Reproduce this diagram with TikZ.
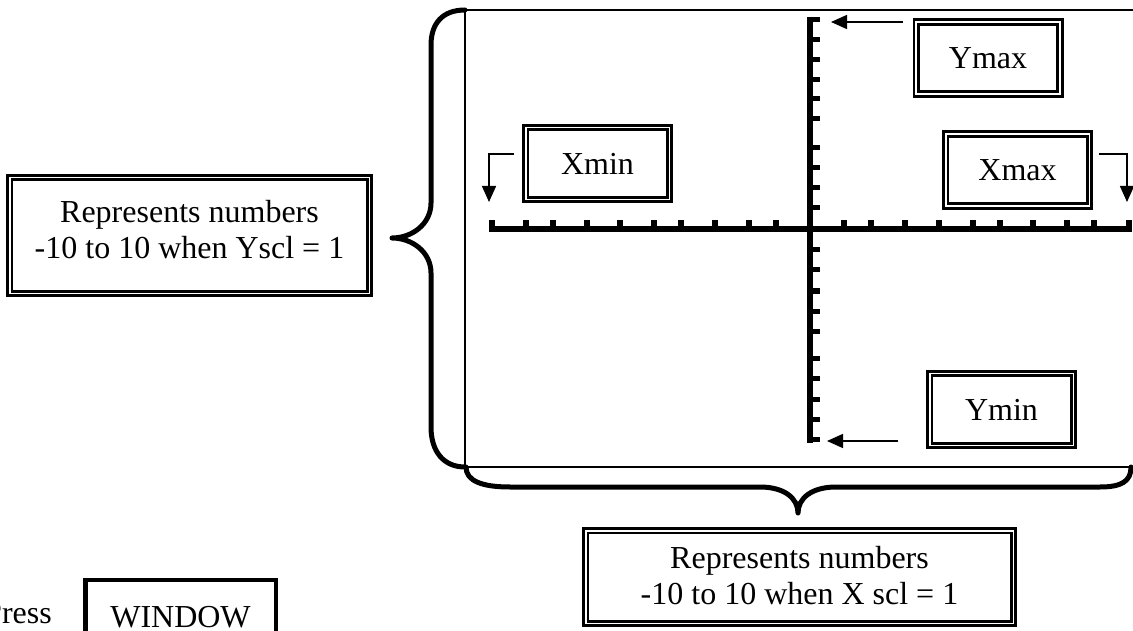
\documentclass[tikz,border=0pt]{standalone}
\usepackage{fontspec}
\setmainfont{Liberation Serif}
\usetikzlibrary{arrows.meta}
\tikzset{
  txt/.style={font=\fontsize{32}{36}\selectfont},
  dbox/.style={txt, draw, double, line width=2.8pt, double distance=1.7pt, inner sep=0pt, align=center},
  smallbox/.style={dbox, minimum width=143.7pt, minimum height=72.2pt},
  sbox/.style={txt, draw, line width=4.5pt, inner sep=0pt},
  arr/.style={line width=1.5pt, -{Triangle[length=16pt,width=14pt]}},
  axisl/.style={line width=6.5pt},
  tickl/.style={line width=6pt},
  ytickl/.style={line width=5pt},
  bracel/.style={line width=5pt, line cap=round, line join=round},
  framel/.style={line width=1.5pt}
}
\begin{document}
\begin{tikzpicture}[x=1pt, y=-1pt]
\useasboundingbox (0,0) rectangle (1133,631);
\clip (0,0) rectangle (1133,631);

% frame
\draw[framel] (1135,10) -- (465,10) -- (465,467) -- (1135,467);

% left brace
\draw[bracel] (465,10) .. controls (442,10) and (431,24) .. (431,45)
  -- (431,203) .. controls (431,224) and (412,238) .. (392,238)
  .. controls (412,238) and (431,252) .. (431,273)
  -- (431,427) .. controls (431,452) and (444,467) .. (465,467);

% bottom brace
\draw[bracel] (466,467) .. controls (466,481) and (482,487) .. (510,487)
  -- (760,487) .. controls (784,487) and (798,498) .. (798,513)
  .. controls (798,498) and (812,487) .. (836,487)
  -- (1100,487) .. controls (1122,487) and (1131,481) .. (1131,467);

% axes
\coordinate (xL) at (489,229);
\coordinate (xR) at (1127,229);
\coordinate (yT) at (810,17);
\coordinate (yB) at (810,443);
\draw[axisl] (xL) -- (1132,229);
\draw[line width=6pt] (yT) -- (yB);
\foreach \x in {492,526,553,587,620,654,681,715,749,776,844,871,905,939,973,1000,1033,1067,1094,1129}
  \draw[tickl] (\x,229) -- (\x,220);
\foreach \y in {20,40,60,80,99,119,148,168,188,208,250,270,291,311,331,358,378,399,419,439.5}
  \draw[ytickl] (810,\y) -- (820,\y);

% boxes
\node[smallbox] (xmin) at (597.5,163.5) {Xmin};
\node[smallbox] (ymax) at (988,58) {Ymax};
\node[smallbox] (xmax) at (1017.5,170) {Xmax};
\node[smallbox] (ymin) at (1001.5,409.5) {Ymin};
\node[dbox, minimum width=359.7pt, minimum height=115.7pt, text depth=13pt] (lbox) at (189.5,235.5)
  {Represents numbers\\-10 to 10 when Yscl = 1};
\node[dbox, minimum width=427.7pt, minimum height=92.7pt, text depth=3pt] (bbox) at (799.5,577)
  {Represents numbers\\-10 to 10 when X scl = 1};

% window
\node[sbox, minimum width=190.5pt, minimum height=74pt] (win) at (180.5,617.2) {WINDOW};
\node[txt, anchor=base east, inner sep=0pt] (press) at (52,623) {Press};

% arrows
\coordinate (xminS) at (514,154);
\coordinate (xmaxS) at (1099,154);
\coordinate (ymaxS) at (903,22);
\coordinate (ymaxE) at (831,22);
\coordinate (yminS) at (898,441);
\coordinate (yminE) at (827,441);
\draw[arr, shorten >=27pt] (xminS) -| (xL);
\draw[arr, shorten >=27pt] (xmaxS) -| (xR);
\draw[arr] (ymaxS) -- (ymaxE);
\draw[arr] (yminS) -- (yminE);
\end{tikzpicture}
\end{document}
